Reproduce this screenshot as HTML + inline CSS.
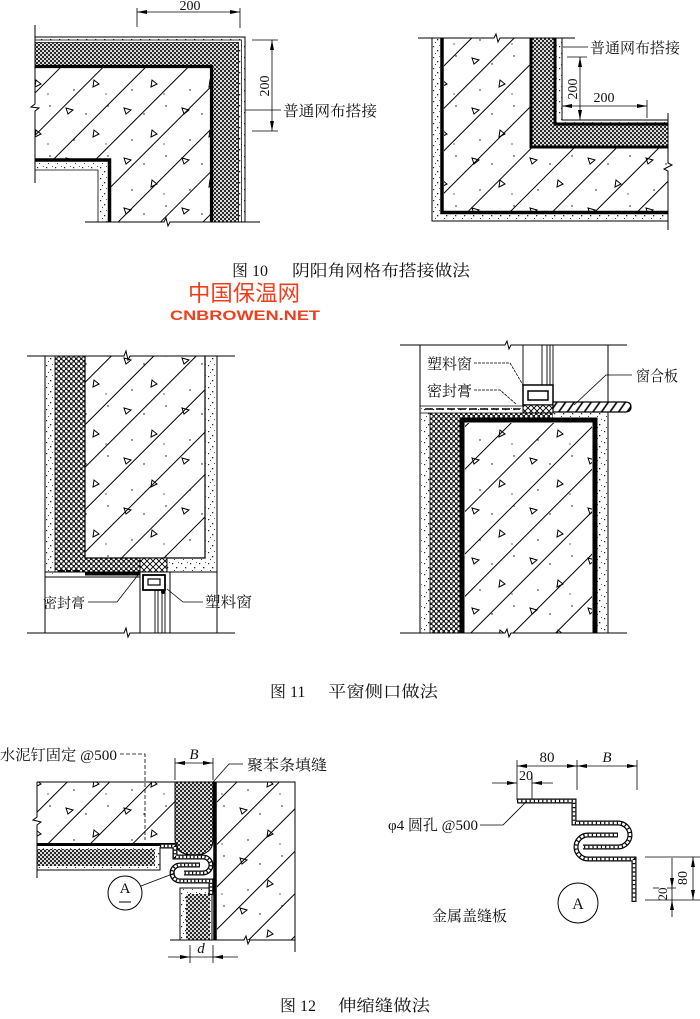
<!DOCTYPE html>
<html><head><meta charset="utf-8"><style>
html,body{margin:0;padding:0;background:#fff;}
svg{display:block;}
text{font-family:"Liberation Serif","Noto Serif CJK SC",serif;fill:#111;}
</style></head><body>
<svg width="700" height="1019" viewBox="0 0 700 1019" xmlns="http://www.w3.org/2000/svg">
<defs>
<pattern id="hatch" patternUnits="userSpaceOnUse" width="40" height="30" patternTransform="rotate(-45)">
<line x1="0" y1="0.5" x2="40" y2="0.5" stroke="#000" stroke-width="1"/>
</pattern>
<pattern id="tri" patternUnits="userSpaceOnUse" width="58" height="50">
<path d="M8,8 l7,2 l-5,4 z" fill="none" stroke="#000" stroke-width="1"/>
<path d="M36,30 l-1,7 l6,-3 z" fill="none" stroke="#000" stroke-width="1"/>
<circle cx="28" cy="14" r="0.7" fill="#000"/>
<circle cx="50" cy="6" r="0.7" fill="#000"/>
<circle cx="16" cy="40" r="0.7" fill="#000"/>
<circle cx="48" cy="44" r="0.6" fill="#000"/>
</pattern>
<pattern id="insD" patternUnits="userSpaceOnUse" width="4" height="4">
<rect width="4" height="4" fill="#2a2a2a"/>
<circle cx="1" cy="1" r="1.05" fill="#fff"/>
<circle cx="3" cy="3" r="1.05" fill="#fff"/>
</pattern>
<pattern id="ins2" patternUnits="userSpaceOnUse" width="5" height="5">
<rect width="5" height="5" fill="#1e1e1e"/>
<circle cx="1.25" cy="1.25" r="1.35" fill="#fff"/>
<circle cx="3.75" cy="3.75" r="1.35" fill="#fff"/>
</pattern>
<pattern id="pl" patternUnits="userSpaceOnUse" width="9" height="11">
<rect width="9" height="11" fill="#fff"/>
<rect x="1" y="2" width="1.2" height="1.2" fill="#222"/>
<rect x="5" y="6" width="1.3" height="1.3" fill="#222"/>
<rect x="3" y="9" width="1" height="1" fill="#444"/>
<rect x="7" y="1" width="0.9" height="0.9" fill="#444"/>
</pattern>
<pattern id="xh" patternUnits="userSpaceOnUse" width="6" height="6">
<rect width="6" height="6" fill="#fff"/>
<path d="M0,0 L6,6 M6,0 L0,6" stroke="#000" stroke-width="0.9"/>
</pattern>
<pattern id="hd" patternUnits="userSpaceOnUse" width="10" height="7" patternTransform="rotate(-55)">
<rect width="10" height="7" fill="#fff"/>
<line x1="0" y1="1" x2="10" y2="1" stroke="#000" stroke-width="1.6"/>
</pattern>
<marker id="ar" viewBox="0 0 10 4" refX="10" refY="2" markerWidth="10" markerHeight="4" markerUnits="userSpaceOnUse" orient="auto-start-reverse">
<path d="M0,0 L10,2 L0,4 Z" fill="#000"/>
</marker>
</defs>

<!-- ============ FIG 10 LEFT ============ -->
<path d="M35,37 H245 V222 H238 V43 H35 Z" fill="url(#pl)"/>
<path d="M35,43 H238 V222 H213 V65 H35 Z" fill="url(#insD)"/>
<path d="M35,68 H210 V222 H111 V159 H35 Z" fill="url(#hatch)"/>
<path d="M35,68 H210 V222 H111 V159 H35 Z" fill="url(#tri)"/>
<path d="M35,161.5 H108 V222 H98 V170 H35 Z" fill="url(#pl)"/>
<path d="M35,37 H245 V222" fill="none" stroke="#000" stroke-width="1"/>
<path d="M35,40 H241.5 V222" fill="none" stroke="#000" stroke-width="0.7"/>
<path d="M35,42.5 H238.5 V222" fill="none" stroke="#000" stroke-width="0.8"/>
<path d="M35,66.5 H211.5 V222" fill="none" stroke="#000" stroke-width="3.2"/>
<path d="M35,160 H109.5 V222" fill="none" stroke="#000" stroke-width="3.5"/>
<path d="M35,170 H98 V222" fill="none" stroke="#000" stroke-width="0.8"/>
<path d="M35,25 V104 L31,107 L39,108 L35,111 V183" fill="none" stroke="#000" stroke-width="1"/>
<path d="M85,222 H164 L166,218 L168,226 L170,222 H260" fill="none" stroke="#000" stroke-width="1"/>
<!-- dims -->
<path d="M137,8 V27 M240,8 V28" stroke="#000" stroke-width="0.8"/>
<line x1="137" y1="12" x2="240" y2="12" stroke="#000" stroke-width="0.8" marker-start="url(#ar)" marker-end="url(#ar)"/>
<text x="190" y="10" font-size="14" text-anchor="middle">200</text>
<path d="M252,40 H278 M252,131 H278" stroke="#000" stroke-width="0.8"/>
<line x1="272" y1="40" x2="272" y2="131" stroke="#000" stroke-width="0.8" marker-start="url(#ar)" marker-end="url(#ar)"/>
<text x="0" y="0" font-size="14" text-anchor="middle" transform="translate(269,86) rotate(-90)">200</text>
<path d="M245,110 H281" stroke="#000" stroke-width="0.8"/>
<text x="283" y="116" font-size="15" textLength="94" lengthAdjust="spacingAndGlyphs">普通网布搭接</text>

<!-- ============ FIG 10 RIGHT ============ -->
<path d="M432,38 H440 V214 H668 V221 H432 Z" fill="url(#pl)"/>
<path d="M444,38 H531 V147 H668 V212 H444 Z" fill="url(#hatch)"/>
<path d="M444,38 H531 V147 H668 V212 H444 Z" fill="url(#tri)"/>
<path d="M531,38 H555 V125 H668 V147 H531 Z" fill="url(#insD)"/>
<path d="M555,38 H562 V120 H668 V125 H555 Z" fill="url(#pl)"/>
<path d="M432,38 V221 H668" fill="none" stroke="#000" stroke-width="1"/>
<path d="M442,38 V212.5 H668" fill="none" stroke="#000" stroke-width="3.5"/>
<path d="M531,38 V147 H668" fill="none" stroke="#000" stroke-width="3"/>
<path d="M555,38 V124 H668" fill="none" stroke="#000" stroke-width="3"/>
<path d="M562,38 V120 H668" fill="none" stroke="#000" stroke-width="1"/>
<path d="M418,38 H494 L496,34 L498,42 L500,38 H575" fill="none" stroke="#000" stroke-width="1"/>
<path d="M668,113 V163 L672,165 L664,169 L668,171 V230" fill="none" stroke="#000" stroke-width="1"/>
<path d="M563,47 H588" stroke="#000" stroke-width="0.8"/>
<text x="590" y="53" font-size="15" textLength="90" lengthAdjust="spacingAndGlyphs">普通网布搭接</text>
<path d="M567,57 H587" stroke="#000" stroke-width="0.8"/>
<line x1="580" y1="57" x2="580" y2="120" stroke="#000" stroke-width="0.8" marker-start="url(#ar)" marker-end="url(#ar)"/>
<text x="0" y="0" font-size="14" text-anchor="middle" transform="translate(577,89) rotate(-90)">200</text>
<line x1="562" y1="106" x2="647" y2="106" stroke="#000" stroke-width="0.8" marker-start="url(#ar)" marker-end="url(#ar)"/>
<path d="M647,100 V118" stroke="#000" stroke-width="0.8"/>
<text x="604" y="102" font-size="14" text-anchor="middle">200</text>

<!-- caption 10 -->
<text x="232" y="276" font-size="16">图 10</text>
<text x="292" y="276" font-size="16" textLength="178" lengthAdjust="spacingAndGlyphs">阴阳角网格布搭接做法</text>

<!-- watermark -->
<text x="188" y="301" font-size="22" textLength="112" lengthAdjust="spacingAndGlyphs" style="font-family:'Noto Sans CJK SC','WenQuanYi Zen Hei',sans-serif;fill:#ee3f1d;">中国保温网</text>
<text x="170" y="320" font-size="14" font-weight="bold" textLength="150" lengthAdjust="spacingAndGlyphs" style="font-family:'Liberation Sans',sans-serif;fill:#ee3f1d;">CNBROWEN.NET</text>

<!-- ============ FIG 11 LEFT ============ -->
<rect x="45" y="356" width="10" height="218" fill="url(#pl)"/>
<path d="M55,356 H85 V558 H140 V572 H55 Z" fill="url(#ins2)"/>
<rect x="85" y="356" width="120" height="202" fill="url(#hatch)"/>
<rect x="85" y="356" width="120" height="202" fill="url(#tri)"/>
<path d="M205,356 H217 V572 H167 V558 H205 Z" fill="url(#pl)"/>
<path d="M85,356 V558 H205 V356" fill="none" stroke="#000" stroke-width="1.2"/>
<path d="M167,558 H205" stroke="#000" stroke-width="1"/>
<rect x="140" y="558" width="27" height="14" fill="url(#xh)" stroke="#000" stroke-width="1"/>
<path d="M55,356 V572" stroke="#000" stroke-width="0.8"/>
<path d="M45,572 H217" stroke="#000" stroke-width="1"/>
<path d="M45,577 H140" stroke="#000" stroke-width="1"/>
<path d="M85,574 H140" stroke="#000" stroke-width="3"/>
<path d="M58,571 H84" stroke="#000" stroke-width="2" stroke-dasharray="5 3"/>
<path d="M27,356 H124 L126,351 L128,360 L130,356 H235" fill="none" stroke="#000" stroke-width="1"/>
<path d="M27,633 H124 L126,628 L128,637 L130,633 H235" fill="none" stroke="#000" stroke-width="1"/>
<path d="M45,356 V633 M217,356 V633" stroke="#000" stroke-width="1"/>
<rect x="140" y="572" width="30" height="61" fill="#fff" stroke="#000" stroke-width="1"/>
<rect x="143" y="575" width="22" height="15" fill="none" stroke="#000" stroke-width="1.8"/>
<rect x="148" y="579" width="12" height="6" fill="none" stroke="#000" stroke-width="1.2"/>
<path d="M155,590 V633 M158,590 V633 M162,590 V633 M165,590 V633" stroke="#000" stroke-width="0.9"/>
<circle cx="163" cy="592" r="2" fill="#000"/>
<text x="43" y="608" font-size="14" textLength="42" lengthAdjust="spacingAndGlyphs">密封膏</text>
<path d="M88,602 H117 L138,575" fill="none" stroke="#000" stroke-width="0.8"/>
<text x="205" y="607" font-size="15" textLength="47" lengthAdjust="spacingAndGlyphs">塑料窗</text>
<path d="M203,602 H183 L167,589" fill="none" stroke="#000" stroke-width="0.8"/>

<!-- ============ FIG 11 RIGHT ============ -->
<rect x="420" y="410" width="10" height="223" fill="url(#pl)"/>
<path d="M430,413 H553 V420 H460 V633 H430 Z" fill="url(#ins2)"/>
<rect x="465" y="423" width="127" height="210" fill="url(#hatch)"/>
<rect x="465" y="423" width="127" height="210" fill="url(#tri)"/>
<path d="M597,412 H608 V633 H597 Z" fill="url(#pl)"/>
<path d="M553,412 H608 V419 H553 Z" fill="url(#pl)"/>
<path d="M462,633 V420 H595 V633" fill="none" stroke="#000" stroke-width="5"/>
<path d="M430,413 V633" stroke="#000" stroke-width="0.8"/>
<path d="M420,406 H523 V413 H420 Z" fill="url(#pl)" stroke="#000" stroke-width="0.8"/>
<path d="M425,409 H520" stroke="#000" stroke-width="1.5" stroke-dasharray="8 3"/>
<path d="M400,345 H505 L507,341 L509,349 L511,345 H627" fill="none" stroke="#000" stroke-width="1"/>
<path d="M400,633 H505 L507,629 L509,637 L511,633 H627" fill="none" stroke="#000" stroke-width="1"/>
<path d="M420,345 V633 M608,345 V633" stroke="#000" stroke-width="1"/>
<path d="M523,345 V385 M542,345 V385 M547,345 V385 M550,345 V385 M553,345 V385" stroke="#000" stroke-width="0.9"/>
<rect x="523" y="385" width="30" height="20" fill="#fff" stroke="#000" stroke-width="1.5"/>
<rect x="528" y="391" width="20" height="9" fill="none" stroke="#000" stroke-width="1.5"/>
<rect x="523" y="405" width="30" height="8" fill="url(#xh)" stroke="#000" stroke-width="1"/>
<path d="M553,402 H625 Q631,402 631,407 Q631,412 625,412 H553 Z" fill="url(#hd)" stroke="#000" stroke-width="1.2"/>
<text x="427" y="369" font-size="15" textLength="45" lengthAdjust="spacingAndGlyphs">塑料窗</text>
<path d="M474,363 H510 L523,385" fill="none" stroke="#000" stroke-width="0.8" stroke-dasharray="3 1"/>
<text x="427" y="396" font-size="15" textLength="45" lengthAdjust="spacingAndGlyphs">密封膏</text>
<path d="M474,390 H500 L516,404" fill="none" stroke="#000" stroke-width="0.8" stroke-dasharray="3 1"/>
<text x="636" y="381" font-size="15" textLength="42" lengthAdjust="spacingAndGlyphs">窗合板</text>
<path d="M632,375 H606 L574,405" fill="none" stroke="#000" stroke-width="0.8"/>

<!-- caption 11 -->
<text x="270" y="697" font-size="16">图 11</text>
<text x="328" y="697" font-size="16" textLength="110" lengthAdjust="spacingAndGlyphs">平窗侧口做法</text>

<!-- ============ FIG 12 LEFT ============ -->
<text x="0" y="760" font-size="15" textLength="117" lengthAdjust="spacingAndGlyphs">水泥钉固定 @500</text>
<path d="M120,754 H145 V840" fill="none" stroke="#000" stroke-width="0.8" stroke-dasharray="4 2"/>
<rect x="37" y="782" width="138" height="61" fill="url(#hatch)"/>
<rect x="37" y="782" width="138" height="61" fill="url(#tri)"/>
<rect x="217" y="782" width="78" height="158" fill="url(#hatch)"/>
<rect x="217" y="782" width="78" height="158" fill="url(#tri)"/>
<path d="M37,847 H160 V870 H37 Z" fill="url(#pl)"/>
<rect x="37" y="849" width="118" height="17" fill="url(#insD)"/>
<path d="M37,870 H160 V847" fill="none" stroke="#000" stroke-width="1"/>
<path d="M37,844.5 H175" stroke="#000" stroke-width="3"/>
<path d="M175,782 H213 V840 Q213,855 194,855 Q175,855 175,840 Z" fill="url(#insD)" stroke="#000" stroke-width="1"/>
<path d="M215,782 V940" stroke="#000" stroke-width="3.5"/>
<path d="M37,782 H295 V952" fill="none" stroke="#000" stroke-width="1"/>
<path d="M37,782 V817 L33,820 L41,822 L37,825 V878" fill="none" stroke="#000" stroke-width="1"/>
<path d="M180,888 H212 V940 H180 Z" fill="url(#pl)" stroke="#000" stroke-width="1"/>
<rect x="186" y="894" width="24" height="46" fill="url(#insD)"/>
<path d="M170,940 H244 L246,936 L248,944 L250,940 H295" fill="none" stroke="#000" stroke-width="1"/>
<!-- metal cover -->
<g fill="none" stroke-linecap="butt">
<path d="M160,846 H175 V857 H203 A8,8 0 0 1 203,873 H184" stroke="#000" stroke-width="5"/>
<path d="M211,895 V881 H180 A8,8 0 0 1 180,865 H200" stroke="#000" stroke-width="5"/>
<path d="M160,846 H175 V857 H203 A8,8 0 0 1 203,873 H184" stroke="#fff" stroke-width="2.4"/>
<path d="M211,895 V881 H180 A8,8 0 0 1 180,865 H200" stroke="#fff" stroke-width="2.4"/>
<path d="M160,846 H175 V857 H203 A8,8 0 0 1 203,873 H184" stroke="#000" stroke-width="2.4" stroke-dasharray="1.2 2.5"/>
<path d="M211,895 V881 H180 A8,8 0 0 1 180,865 H200" stroke="#000" stroke-width="2.4" stroke-dasharray="1.2 2.5"/>
</g>
<path d="M175,758 V780 M213,758 V780" stroke="#000" stroke-width="0.8"/>
<line x1="175" y1="763" x2="213" y2="763" stroke="#000" stroke-width="0.8" marker-start="url(#ar)" marker-end="url(#ar)"/>
<text x="194" y="759" font-size="15" font-style="italic" text-anchor="middle">B</text>
<text x="247" y="770" font-size="15" textLength="80" lengthAdjust="spacingAndGlyphs">聚苯条填缝</text>
<path d="M243,764 H229 L213,782" fill="none" stroke="#000" stroke-width="0.8"/>
<circle cx="125" cy="893" r="17" fill="#fff" stroke="#000" stroke-width="1"/>
<text x="125" y="893" font-size="15" text-anchor="middle">A</text>
<path d="M119,902 H131" stroke="#000" stroke-width="1"/>
<path d="M141,886 L175,873" stroke="#000" stroke-width="0.8"/>
<path d="M190,945 V963 M213,945 V963" stroke="#000" stroke-width="0.8"/>
<line x1="168" y1="957" x2="190" y2="957" stroke="#000" stroke-width="0.8" marker-end="url(#ar)"/>
<line x1="238" y1="957" x2="213" y2="957" stroke="#000" stroke-width="0.8" marker-end="url(#ar)"/>
<line x1="190" y1="957" x2="213" y2="957" stroke="#000" stroke-width="0.8"/>
<text x="201" y="953" font-size="15" font-style="italic" text-anchor="middle">d</text>

<!-- ============ FIG 12 RIGHT ============ -->
<path d="M517,760 V800 M577,760 V790 M637,760 V790 M532,776 V800" stroke="#000" stroke-width="0.8"/>
<line x1="517" y1="766" x2="577" y2="766" stroke="#000" stroke-width="0.8" marker-start="url(#ar)" marker-end="url(#ar)"/>
<line x1="577" y1="766" x2="637" y2="766" stroke="#000" stroke-width="0.8" marker-start="url(#ar)" marker-end="url(#ar)"/>
<text x="547" y="762" font-size="15" text-anchor="middle">80</text>
<text x="607" y="762" font-size="15" font-style="italic" text-anchor="middle">B</text>
<text x="519" y="780" font-size="14">20</text>
<line x1="492" y1="783" x2="517" y2="783" stroke="#000" stroke-width="0.8" marker-end="url(#ar)"/>
<line x1="553" y1="783" x2="532" y2="783" stroke="#000" stroke-width="0.8" marker-end="url(#ar)"/>
<g fill="none">
<path d="M517,801 H574 V823 H618 A12,12 0 0 1 618,847 H583" stroke="#000" stroke-width="5"/>
<path d="M634,902 V859 H588 A12,12 0 0 1 588,835 H618" stroke="#000" stroke-width="5"/>
<path d="M517,801 H574 V823 H618 A12,12 0 0 1 618,847 H583" stroke="#fff" stroke-width="2.6"/>
<path d="M634,902 V859 H588 A12,12 0 0 1 588,835 H618" stroke="#fff" stroke-width="2.6"/>
<path d="M517,801 H574 V823 H618 A12,12 0 0 1 618,847 H583" stroke="#000" stroke-width="2.6" stroke-dasharray="1.2 3"/>
<path d="M634,902 V859 H588 A12,12 0 0 1 588,835 H618" stroke="#000" stroke-width="2.6" stroke-dasharray="1.2 3"/>
</g>
<text x="388" y="830" font-size="15" textLength="90" lengthAdjust="spacingAndGlyphs">φ4 圆孔 @500</text>
<path d="M480,825 H503 L527,801" fill="none" stroke="#000" stroke-width="0.8"/>
<circle cx="578" cy="903" r="20" fill="none" stroke="#000" stroke-width="1"/>
<text x="578" y="909" font-size="16" text-anchor="middle">A</text>
<text x="432" y="921" font-size="15" textLength="75" lengthAdjust="spacingAndGlyphs">金属盖缝板</text>
<path d="M645,857 H700 M645,900 H700" stroke="#000" stroke-width="0.8"/>
<path d="M653,888 H659 M667,888 H676" stroke="#000" stroke-width="0.8"/>
<line x1="693" y1="857" x2="693" y2="900" stroke="#000" stroke-width="0.8" marker-start="url(#ar)" marker-end="url(#ar)"/>
<line x1="672" y1="858" x2="672" y2="888" stroke="#000" stroke-width="0.8" marker-end="url(#ar)"/>
<line x1="672" y1="917" x2="672" y2="900" stroke="#000" stroke-width="0.8" marker-end="url(#ar)"/>
<line x1="672" y1="888" x2="672" y2="900" stroke="#000" stroke-width="0.8"/>
<text x="0" y="0" font-size="14" text-anchor="middle" transform="translate(687,878) rotate(-90)">80</text>
<text x="0" y="0" font-size="13" text-anchor="middle" transform="translate(667,894) rotate(-90)">20</text>

<!-- caption 12 -->
<text x="280" y="1011" font-size="16">图 12</text>
<text x="338" y="1011" font-size="16" textLength="92" lengthAdjust="spacingAndGlyphs">伸缩缝做法</text>
</svg>
</body></html>
